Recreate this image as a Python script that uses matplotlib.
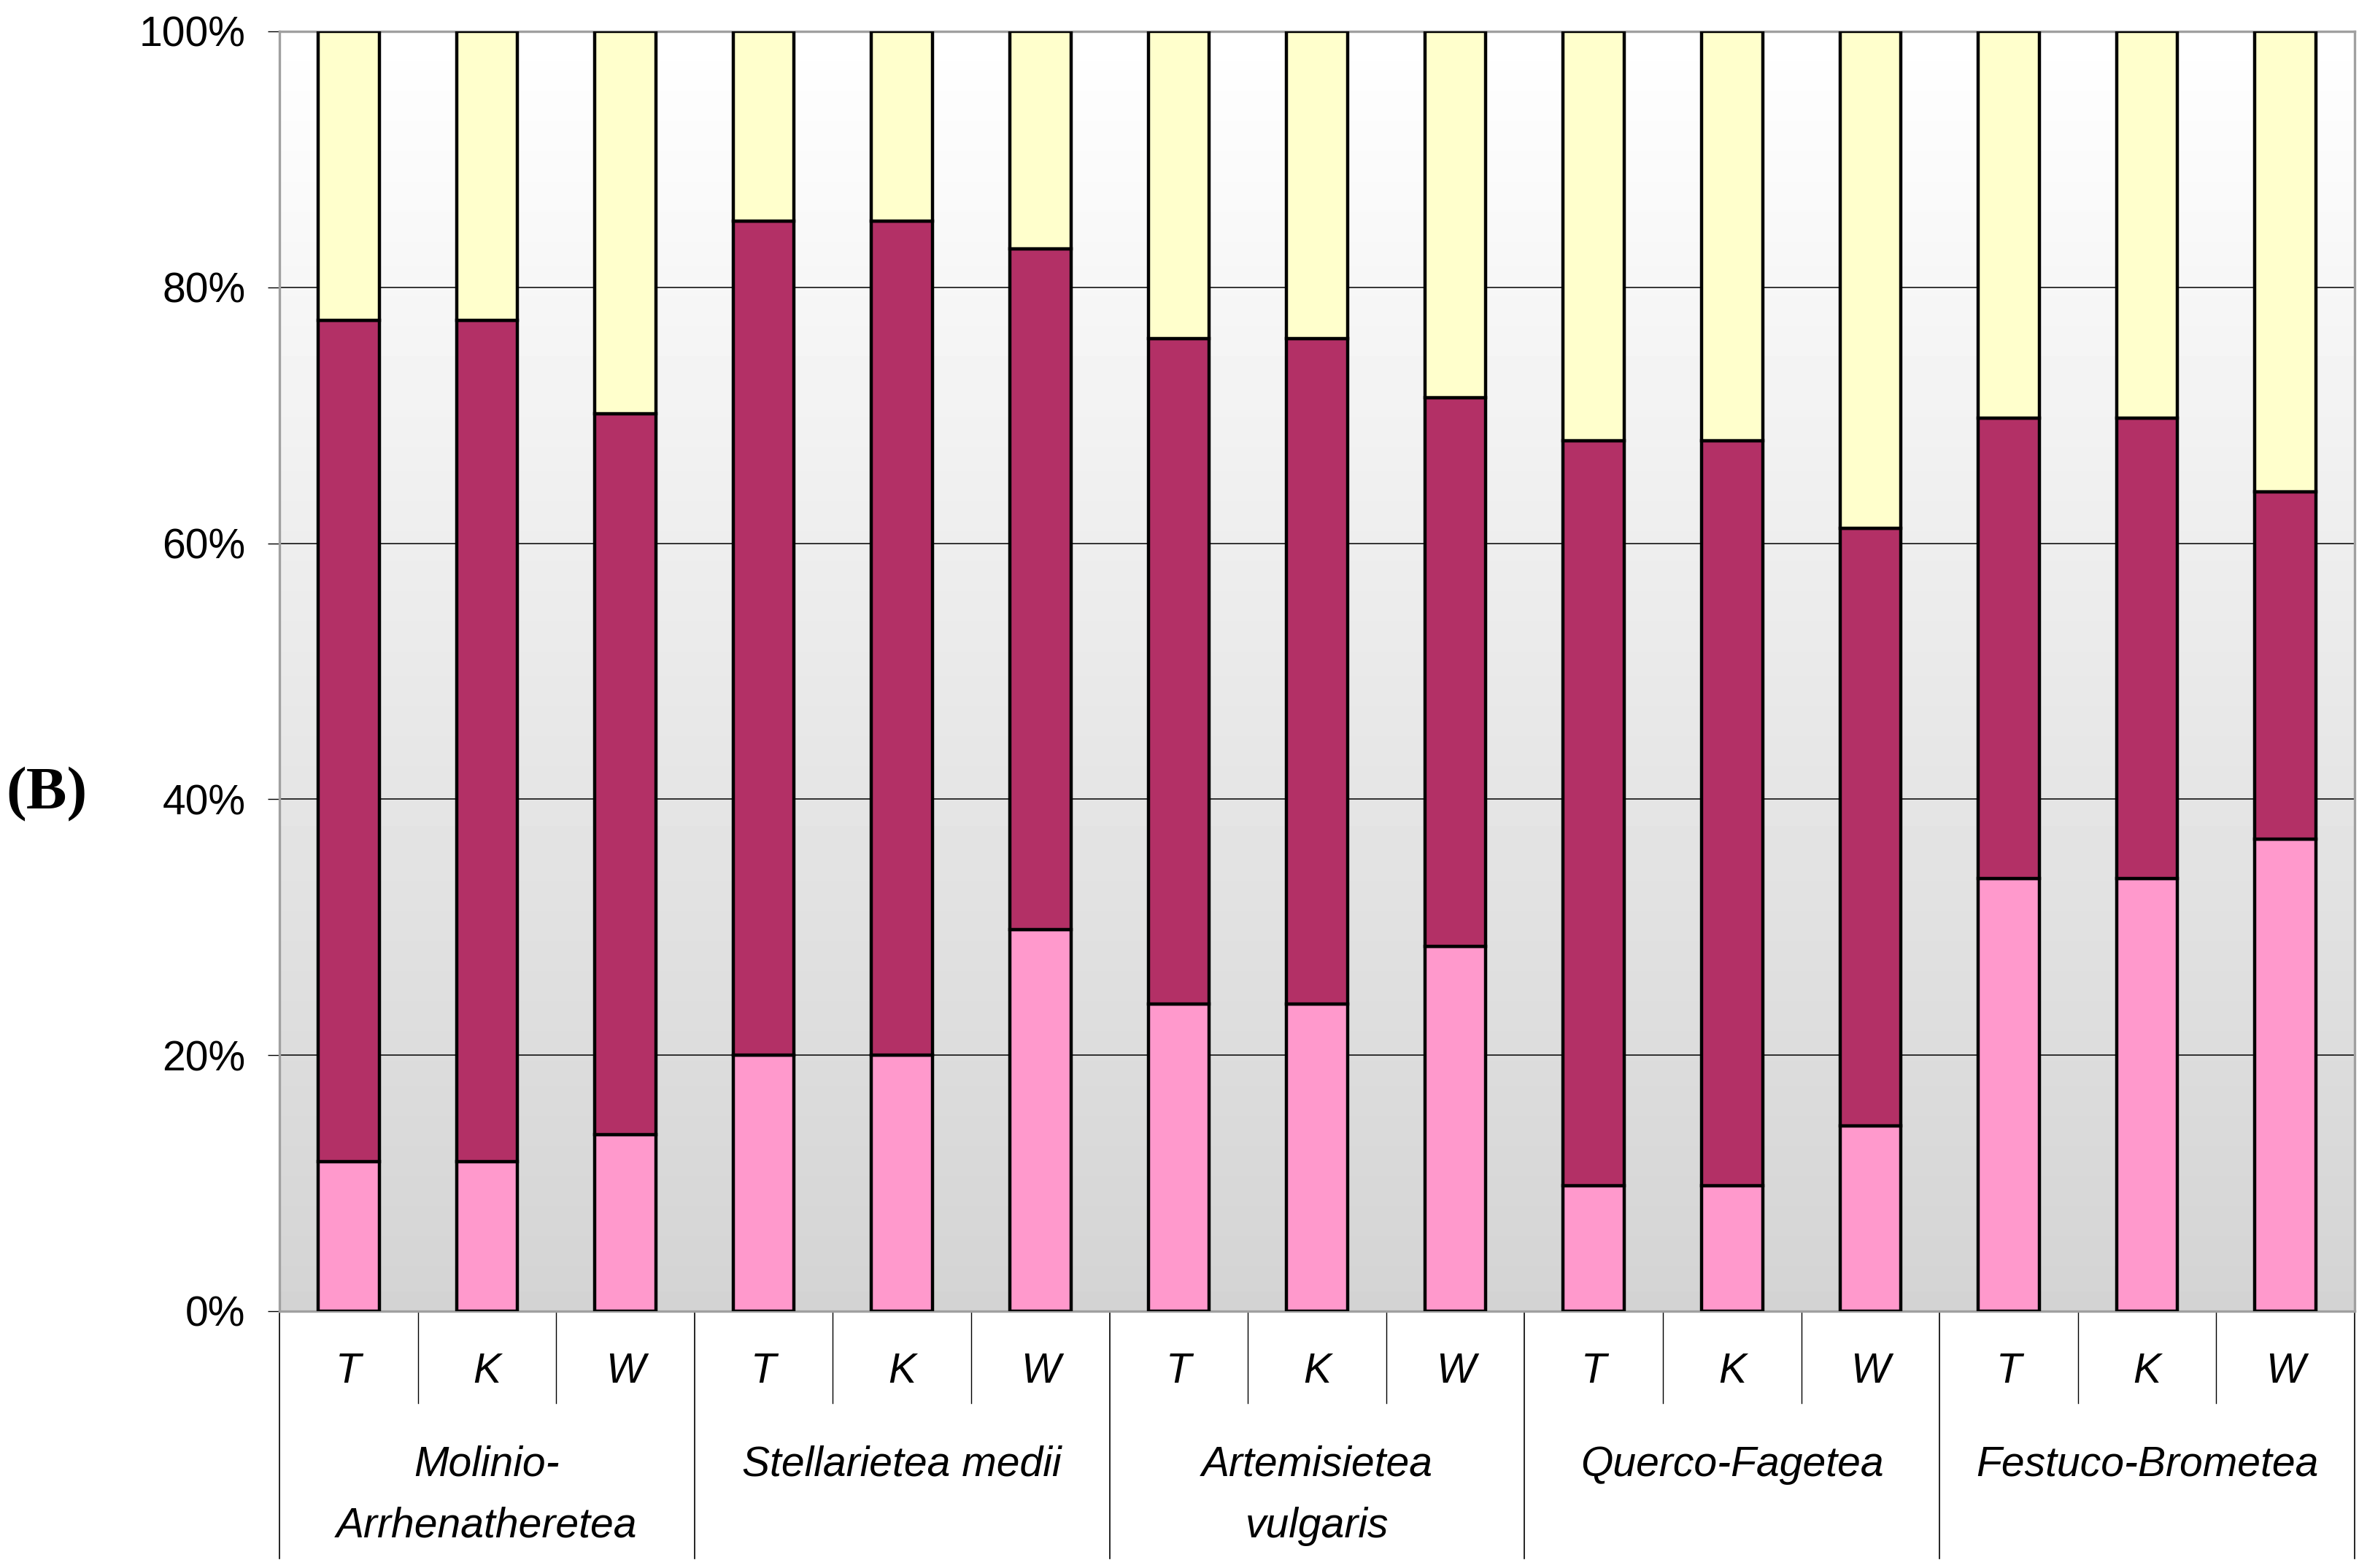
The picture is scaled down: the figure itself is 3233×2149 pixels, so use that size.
import numpy as np
import matplotlib.pyplot as plt
from matplotlib.transforms import blended_transform_factory

groups = ["Molinio-\nArrhenatheretea", "Stellarietea medii", "Artemisietea\nvulgaris",
          "Querco-Fagetea", "Festuco-Brometea"]
sub = ["T", "K", "W"]

# percentuale per segmento (dal basso verso l'alto)
pink = [11.7, 11.7, 13.8, 20.0, 20.0, 29.8, 24.0, 24.0, 28.5, 9.8, 9.8, 14.5, 33.8, 33.8, 36.9]
dark_top = [77.4, 77.4, 70.1, 85.2, 85.2, 83.0, 76.0, 76.0, 71.4, 68.0, 68.0, 61.2, 69.8, 69.8, 64.0]
dark = [d - p for d, p in zip(dark_top, pink)]
yellow = [100 - d for d in dark_top]

yticks = [0, 20, 40, 60, 80, 100]

c_pink = "#FF99CC"
c_dark = "#B33066"
c_yel = "#FFFFCC"

plt.rcParams['font.family'] = ['Liberation Sans', 'DejaVu Sans']

fig = plt.figure(figsize=(32.33, 21.49), dpi=100)
ax = fig.add_axes([383 / 3233, 1 - 1797 / 2149, (3227 - 383) / 3233, (1797 - 43) / 2149])

n = len(pink)
x = np.arange(n)
ax.set_xlim(-0.5, n - 0.5)
ax.set_ylim(0, 100)

# sfondo sfumato bianco -> grigio
grad = np.linspace(1.0, 0.83, 256).reshape(-1, 1)
ax.imshow(grad, cmap="gray", vmin=0, vmax=1, aspect="auto",
          extent=[-0.5, n - 0.5, 0, 100], origin="upper", zorder=0)

for yv in yticks[1:-1]:
    ax.axhline(yv, color="black", lw=1.1, zorder=1)

w = 0.44
kw = dict(width=w, edgecolor="black", linewidth=3.2, zorder=3)
ax.bar(x, pink, color=c_pink, **kw)
ax.bar(x, dark, bottom=pink, color=c_dark, **kw)
ax.bar(x, yellow, bottom=dark_top, color=c_yel, **kw)

for s in ax.spines.values():
    s.set_color("#A0A0A0")
    s.set_linewidth(2.4)
    s.set_zorder(2)

ax.set_yticks(yticks)
ax.set_yticklabels([f"{v}%" for v in yticks], fontsize=41)
ax.tick_params(axis="y", length=11.5, width=1, color="black", pad=22)
ax.set_xticks([])

trans = blended_transform_factory(ax.transData, ax.transAxes)
for i in range(n):
    ax.text(i, -0.0559, sub[i % 3], transform=trans, ha="center", va="baseline",
            fontsize=41, style="italic")
    if i % 3 != 0:
        ax.plot([i - 0.5, i - 0.5], [0, -0.0718], transform=trans, color="black",
                lw=1, clip_on=False)
for g in range(len(groups) + 1):
    xb = g * 3 - 0.5
    ax.plot([xb, xb], [0, -0.1933], transform=trans, color="black", lw=1.2, clip_on=False)

for g, name in enumerate(groups):
    lines = name.split("\n")
    for k, ln in enumerate(lines):
        ax.text(g * 3 + 1, -0.1288 - 0.0479 * k, ln, transform=trans, ha="center",
                va="baseline", fontsize=41, style="italic")

fig.text(64 / 3233, 1 - 1089 / 2149, "(B)", ha="center", va="center", fontsize=60,
         fontweight="bold", family=["Liberation Serif", "DejaVu Serif"])

fig.savefig("out.png", dpi=100, facecolor="white")
